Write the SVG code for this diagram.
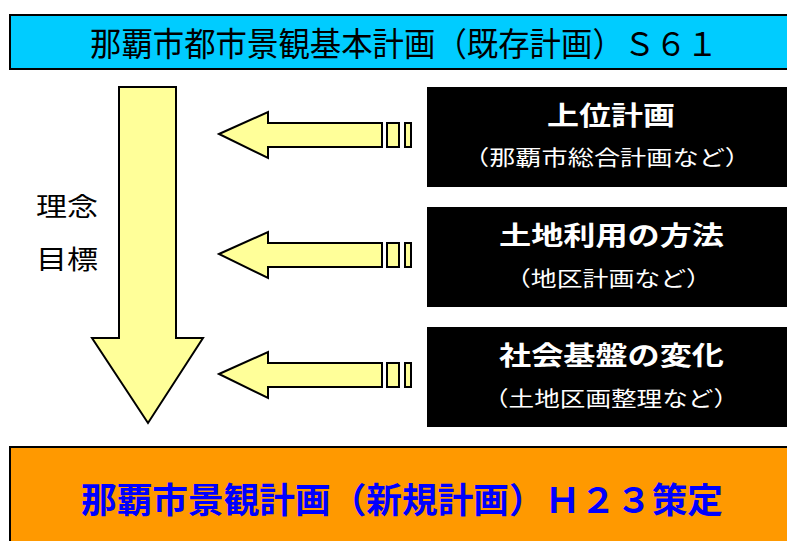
<svg xmlns="http://www.w3.org/2000/svg" width="787" height="541" viewBox="0 0 787 541">
<style>
text{font-family:"Noto Sans CJK JP","Noto Sans CJK SC",sans-serif}
.arrow{fill:#FFFF99;stroke:#000;stroke-width:2;stroke-linejoin:miter}
.box{fill:#000}
.ttl{fill:#fff;font-size:26px;font-weight:bold}
.sub{fill:#fff;font-size:21px}
</style>
<rect width="787" height="541" fill="#fff"/>
<g id="top">
<rect x="10" y="15" width="790" height="54" fill="#00CCFF" stroke="#000" stroke-width="2"/>
<text x="90" y="56" font-size="33" fill="#000" textLength="628" lengthAdjust="spacingAndGlyphs">那覇市都市景観基本計画（既存計画）Ｓ６１</text>
</g>
<g id="bottom">
<rect x="10" y="447" width="790" height="110" fill="#FF9900" stroke="#000" stroke-width="2"/>
<text x="81" y="513" font-size="35" font-weight="bold" fill="#0000FF" textLength="642" lengthAdjust="spacingAndGlyphs">那覇市景観計画（新規計画）Ｈ２３策定</text>
</g>
<g id="label">
<text x="36" y="216" font-size="26" fill="#000" textLength="62" lengthAdjust="spacingAndGlyphs">理念</text>
<text x="36" y="269" font-size="26" fill="#000" textLength="62" lengthAdjust="spacingAndGlyphs">目標</text>
</g>
<g id="connectors">
<polygon class="arrow" points="119,87 176,87 176,338 203,338 148,423 92,338 119,338"/>
<g id="arrow1">
<polygon class="arrow" points="219,134 268,112 268,123 382,123 382,147 268,147 268,158"/>
<rect class="arrow" x="387" y="123" width="12" height="24"/>
<rect class="arrow" x="405" y="123" width="6" height="24"/>
</g>
<g id="arrow2" transform="translate(0,120)">
<polygon class="arrow" points="219,134 268,112 268,123 382,123 382,147 268,147 268,158"/>
<rect class="arrow" x="387" y="123" width="12" height="24"/>
<rect class="arrow" x="405" y="123" width="6" height="24"/>
</g>
<g id="arrow3" transform="translate(0,240)">
<polygon class="arrow" points="219,134 268,112 268,123 382,123 382,147 268,147 268,158"/>
<rect class="arrow" x="387" y="123" width="12" height="24"/>
<rect class="arrow" x="405" y="123" width="6" height="24"/>
</g>
</g>
<g id="box1">
<rect class="box" x="427" y="87" width="360" height="100"/>
<text class="ttl" x="547" y="125" textLength="128" lengthAdjust="spacingAndGlyphs">上位計画</text>
<text class="sub" x="463" y="165" textLength="288" lengthAdjust="spacingAndGlyphs">（那覇市総合計画など）</text>
</g>
<g id="box2">
<rect class="box" x="427" y="207" width="360" height="100"/>
<text class="ttl" x="499" y="245" textLength="225" lengthAdjust="spacingAndGlyphs">土地利用の方法</text>
<text class="sub" x="505" y="286" textLength="207" lengthAdjust="spacingAndGlyphs">（地区計画など）</text>
</g>
<g id="box3">
<rect class="box" x="427" y="327" width="360" height="100"/>
<text class="ttl" x="499" y="365" textLength="225" lengthAdjust="spacingAndGlyphs">社会基盤の変化</text>
<text class="sub" x="483" y="406" textLength="256" lengthAdjust="spacingAndGlyphs">（土地区画整理など）</text>
</g>
</svg>
